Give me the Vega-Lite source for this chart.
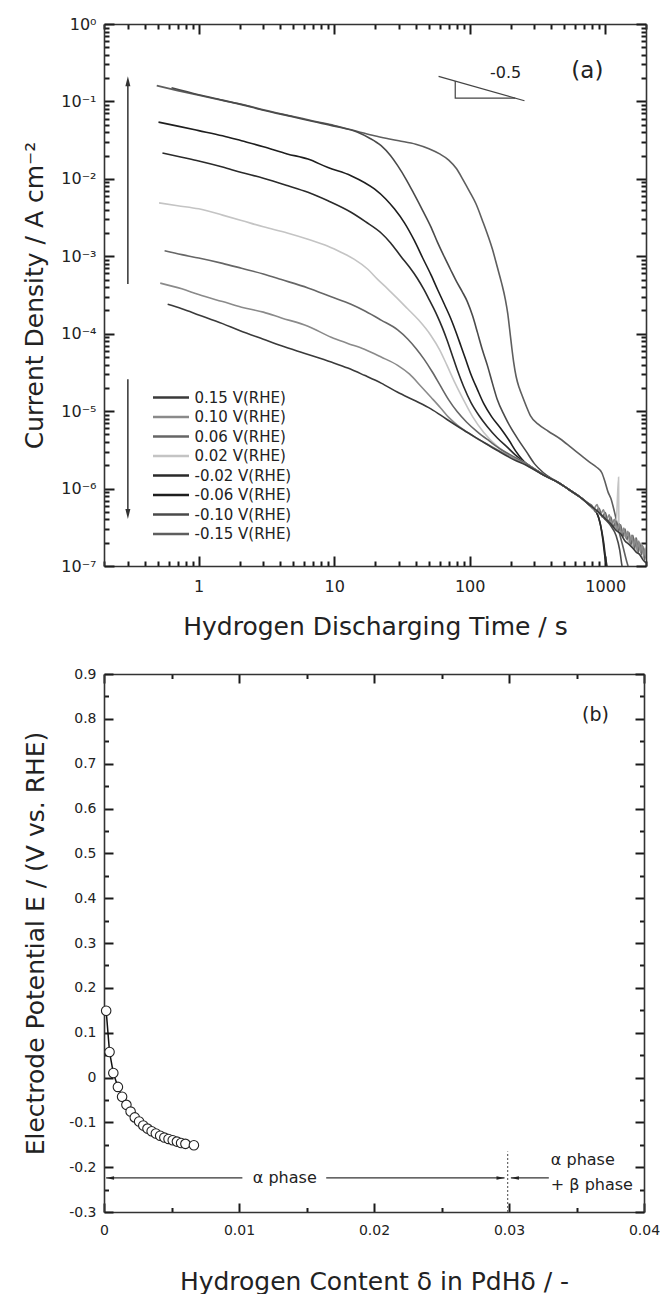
{
  "$schema": "https://vega.github.io/schema/vega-lite/v6.json",
  "padding": {"left": 22, "top": 16, "right": 0, "bottom": 0},
  "background": "white",
  "spacing": 28,
  "config": {
    "view": {"stroke": null},
    "font": "DejaVu Sans",
    "axis": {"grid": false, "ticks": true, "domainColor": "#333", "domainWidth": 1.6, "tickColor": "#1a1a1a", "tickWidth": 2, "tickOpacity": 1, "labelColor": "#222", "titleColor": "#222", "labelFont": "DejaVu Sans", "titleFont": "DejaVu Sans", "titleFontWeight": "normal"},
    "text": {"font": "DejaVu Sans", "color": "#222"}
  },
  "resolve": {"scale": {"color": "independent"}, "legend": {"color": "independent"}},
  "datasets": {
    "curves": [
      {"V":"-0.15 V(RHE)","t":0.49,"I":0.160},{"V":"-0.15 V(RHE)","t":0.7,"I":0.138},{"V":"-0.15 V(RHE)","t":1,"I":0.120},{"V":"-0.15 V(RHE)","t":1.5,"I":0.103},{"V":"-0.15 V(RHE)","t":2.07,"I":0.092},{"V":"-0.15 V(RHE)","t":3,"I":0.078},{"V":"-0.15 V(RHE)","t":5,"I":0.064},{"V":"-0.15 V(RHE)","t":7,"I":0.056},{"V":"-0.15 V(RHE)","t":10,"I":0.049},{"V":"-0.15 V(RHE)","t":14.9,"I":0.041},{"V":"-0.15 V(RHE)","t":19.8,"I":0.036},{"V":"-0.15 V(RHE)","t":25,"I":0.033},{"V":"-0.15 V(RHE)","t":30,"I":0.031},{"V":"-0.15 V(RHE)","t":40,"I":0.028},{"V":"-0.15 V(RHE)","t":50,"I":0.0245},{"V":"-0.15 V(RHE)","t":60,"I":0.021},{"V":"-0.15 V(RHE)","t":70,"I":0.0175},{"V":"-0.15 V(RHE)","t":80,"I":0.0135},{"V":"-0.15 V(RHE)","t":90,"I":0.0095},{"V":"-0.15 V(RHE)","t":100,"I":0.0068},{"V":"-0.15 V(RHE)","t":111,"I":0.0048},{"V":"-0.15 V(RHE)","t":125,"I":0.0028},{"V":"-0.15 V(RHE)","t":137,"I":0.0018},{"V":"-0.15 V(RHE)","t":147,"I":0.00124},{"V":"-0.15 V(RHE)","t":160,"I":0.00072},{"V":"-0.15 V(RHE)","t":172,"I":0.00045},{"V":"-0.15 V(RHE)","t":183,"I":0.00028},{"V":"-0.15 V(RHE)","t":191,"I":0.00018},{"V":"-0.15 V(RHE)","t":197,"I":0.000115},{"V":"-0.15 V(RHE)","t":204,"I":0.000068},{"V":"-0.15 V(RHE)","t":211,"I":0.000043},{"V":"-0.15 V(RHE)","t":220,"I":0.000028},{"V":"-0.15 V(RHE)","t":232,"I":0.000020},{"V":"-0.15 V(RHE)","t":244,"I":0.0000158},{"V":"-0.15 V(RHE)","t":262,"I":0.0000115},{"V":"-0.15 V(RHE)","t":281,"I":0.0000087},{"V":"-0.15 V(RHE)","t":320,"I":0.0000068},{"V":"-0.15 V(RHE)","t":380,"I":0.0000055},{"V":"-0.15 V(RHE)","t":464,"I":0.0000044},{"V":"-0.15 V(RHE)","t":560,"I":0.0000034},{"V":"-0.15 V(RHE)","t":660,"I":0.0000027},{"V":"-0.15 V(RHE)","t":766,"I":0.0000022},{"V":"-0.15 V(RHE)","t":860,"I":0.0000019},{"V":"-0.15 V(RHE)","t":944,"I":0.0000016},{"V":"-0.15 V(RHE)","t":1000,"I":0.0000012},{"V":"-0.15 V(RHE)","t":1050,"I":0.0000009},{"V":"-0.15 V(RHE)","t":1100,"I":0.00000075},{"V":"-0.15 V(RHE)","t":1170,"I":0.0000005},{"V":"-0.15 V(RHE)","t":1250,"I":0.0000003},{"V":"-0.15 V(RHE)","t":1350,"I":0.00000018},{"V":"-0.15 V(RHE)","t":1450,"I":0.00000011},{"V":"-0.15 V(RHE)","t":1500,"I":0.00000009},

      {"V":"-0.10 V(RHE)","t":0.63,"I":0.150},{"V":"-0.10 V(RHE)","t":1,"I":0.122},{"V":"-0.10 V(RHE)","t":1.5,"I":0.104},{"V":"-0.10 V(RHE)","t":2.07,"I":0.091},{"V":"-0.10 V(RHE)","t":3,"I":0.077},{"V":"-0.10 V(RHE)","t":5,"I":0.063},{"V":"-0.10 V(RHE)","t":7,"I":0.055},{"V":"-0.10 V(RHE)","t":10,"I":0.048},{"V":"-0.10 V(RHE)","t":14.9,"I":0.040},{"V":"-0.10 V(RHE)","t":18,"I":0.034},{"V":"-0.10 V(RHE)","t":22.2,"I":0.0268},{"V":"-0.10 V(RHE)","t":26,"I":0.020},{"V":"-0.10 V(RHE)","t":29.4,"I":0.0148},{"V":"-0.10 V(RHE)","t":34,"I":0.0098},{"V":"-0.10 V(RHE)","t":39,"I":0.0063},{"V":"-0.10 V(RHE)","t":45,"I":0.0039},{"V":"-0.10 V(RHE)","t":51.7,"I":0.0024},{"V":"-0.10 V(RHE)","t":58,"I":0.0015},{"V":"-0.10 V(RHE)","t":65,"I":0.00098},{"V":"-0.10 V(RHE)","t":72,"I":0.00068},{"V":"-0.10 V(RHE)","t":80,"I":0.00047},{"V":"-0.10 V(RHE)","t":88,"I":0.00035},{"V":"-0.10 V(RHE)","t":96,"I":0.00026},{"V":"-0.10 V(RHE)","t":105,"I":0.00017},{"V":"-0.10 V(RHE)","t":114,"I":0.000104},{"V":"-0.10 V(RHE)","t":124,"I":0.000062},{"V":"-0.10 V(RHE)","t":135,"I":0.000039},{"V":"-0.10 V(RHE)","t":147,"I":0.000023},{"V":"-0.10 V(RHE)","t":160,"I":0.000014},{"V":"-0.10 V(RHE)","t":180,"I":0.0000088},{"V":"-0.10 V(RHE)","t":200,"I":0.0000062},{"V":"-0.10 V(RHE)","t":230,"I":0.0000042},{"V":"-0.10 V(RHE)","t":262,"I":0.000003},{"V":"-0.10 V(RHE)","t":300,"I":0.0000021},{"V":"-0.10 V(RHE)","t":350,"I":0.0000016},{"V":"-0.10 V(RHE)","t":450,"I":0.0000012},{"V":"-0.10 V(RHE)","t":535,"I":0.00000098},{"V":"-0.10 V(RHE)","t":650,"I":0.00000078},{"V":"-0.10 V(RHE)","t":760,"I":0.00000062},{"V":"-0.10 V(RHE)","t":900,"I":0.00000048},{"V":"-0.10 V(RHE)","t":1000,"I":0.0000004},{"V":"-0.10 V(RHE)","t":1100,"I":0.00000033},{"V":"-0.10 V(RHE)","t":1200,"I":0.00000025},{"V":"-0.10 V(RHE)","t":1280,"I":0.00000016},{"V":"-0.10 V(RHE)","t":1330,"I":0.0000001},{"V":"-0.10 V(RHE)","t":1360,"I":0.00000008},

      {"V":"-0.06 V(RHE)","t":0.505,"I":0.054},{"V":"-0.06 V(RHE)","t":0.7,"I":0.048},{"V":"-0.06 V(RHE)","t":1,"I":0.042},{"V":"-0.06 V(RHE)","t":1.5,"I":0.036},{"V":"-0.06 V(RHE)","t":2.07,"I":0.031},{"V":"-0.06 V(RHE)","t":3,"I":0.026},{"V":"-0.06 V(RHE)","t":4.5,"I":0.021},{"V":"-0.06 V(RHE)","t":6.4,"I":0.018},{"V":"-0.06 V(RHE)","t":9,"I":0.014},{"V":"-0.06 V(RHE)","t":13.3,"I":0.011},{"V":"-0.06 V(RHE)","t":19.8,"I":0.0074},{"V":"-0.06 V(RHE)","t":24,"I":0.0055},{"V":"-0.06 V(RHE)","t":27.8,"I":0.0041},{"V":"-0.06 V(RHE)","t":33,"I":0.0027},{"V":"-0.06 V(RHE)","t":39,"I":0.0016},{"V":"-0.06 V(RHE)","t":45,"I":0.00095},{"V":"-0.06 V(RHE)","t":51.7,"I":0.00058},{"V":"-0.06 V(RHE)","t":58,"I":0.00037},{"V":"-0.06 V(RHE)","t":65,"I":0.00024},{"V":"-0.06 V(RHE)","t":72.7,"I":0.000155},{"V":"-0.06 V(RHE)","t":80,"I":0.0001},{"V":"-0.06 V(RHE)","t":86,"I":0.00007},{"V":"-0.06 V(RHE)","t":94,"I":0.000045},{"V":"-0.06 V(RHE)","t":102,"I":0.00003},{"V":"-0.06 V(RHE)","t":114,"I":0.000019},{"V":"-0.06 V(RHE)","t":127,"I":0.0000125},{"V":"-0.06 V(RHE)","t":145,"I":0.0000085},{"V":"-0.06 V(RHE)","t":169,"I":0.000006},{"V":"-0.06 V(RHE)","t":195,"I":0.0000042},{"V":"-0.06 V(RHE)","t":220,"I":0.000003},{"V":"-0.06 V(RHE)","t":262,"I":0.0000021},{"V":"-0.06 V(RHE)","t":300,"I":0.0000018},{"V":"-0.06 V(RHE)","t":350,"I":0.0000015},{"V":"-0.06 V(RHE)","t":450,"I":0.0000012},{"V":"-0.06 V(RHE)","t":535,"I":0.00000098},{"V":"-0.06 V(RHE)","t":650,"I":0.00000078},{"V":"-0.06 V(RHE)","t":760,"I":0.00000062},{"V":"-0.06 V(RHE)","t":860,"I":0.0000005},{"V":"-0.06 V(RHE)","t":920,"I":0.00000035},{"V":"-0.06 V(RHE)","t":960,"I":0.00000022},{"V":"-0.06 V(RHE)","t":990,"I":0.00000014},{"V":"-0.06 V(RHE)","t":1020,"I":0.0000001},{"V":"-0.06 V(RHE)","t":1040,"I":0.00000008},

      {"V":"-0.02 V(RHE)","t":0.54,"I":0.0216},{"V":"-0.02 V(RHE)","t":0.75,"I":0.019},{"V":"-0.02 V(RHE)","t":1,"I":0.017},{"V":"-0.02 V(RHE)","t":1.5,"I":0.0142},{"V":"-0.02 V(RHE)","t":2.07,"I":0.0121},{"V":"-0.02 V(RHE)","t":3,"I":0.0102},{"V":"-0.02 V(RHE)","t":4.5,"I":0.0082},{"V":"-0.02 V(RHE)","t":6.4,"I":0.0067},{"V":"-0.02 V(RHE)","t":9,"I":0.0052},{"V":"-0.02 V(RHE)","t":13.3,"I":0.0037},{"V":"-0.02 V(RHE)","t":17,"I":0.0028},{"V":"-0.02 V(RHE)","t":22.2,"I":0.002},{"V":"-0.02 V(RHE)","t":26,"I":0.0015},{"V":"-0.02 V(RHE)","t":31,"I":0.001},{"V":"-0.02 V(RHE)","t":36,"I":0.00072},{"V":"-0.02 V(RHE)","t":41,"I":0.00052},{"V":"-0.02 V(RHE)","t":46,"I":0.00037},{"V":"-0.02 V(RHE)","t":50,"I":0.00028},{"V":"-0.02 V(RHE)","t":54,"I":0.000215},{"V":"-0.02 V(RHE)","t":57.6,"I":0.00017},{"V":"-0.02 V(RHE)","t":63,"I":0.000118},{"V":"-0.02 V(RHE)","t":68,"I":0.000083},{"V":"-0.02 V(RHE)","t":74,"I":0.000054},{"V":"-0.02 V(RHE)","t":81,"I":0.000034},{"V":"-0.02 V(RHE)","t":90,"I":0.000021},{"V":"-0.02 V(RHE)","t":102,"I":0.000013},{"V":"-0.02 V(RHE)","t":117,"I":0.0000088},{"V":"-0.02 V(RHE)","t":135,"I":0.0000063},{"V":"-0.02 V(RHE)","t":160,"I":0.0000045},{"V":"-0.02 V(RHE)","t":190,"I":0.0000034},{"V":"-0.02 V(RHE)","t":218,"I":0.0000027},{"V":"-0.02 V(RHE)","t":262,"I":0.0000021},{"V":"-0.02 V(RHE)","t":300,"I":0.0000018},{"V":"-0.02 V(RHE)","t":350,"I":0.0000015},{"V":"-0.02 V(RHE)","t":450,"I":0.0000012},{"V":"-0.02 V(RHE)","t":535,"I":0.00000098},{"V":"-0.02 V(RHE)","t":650,"I":0.00000078},{"V":"-0.02 V(RHE)","t":760,"I":0.00000062},{"V":"-0.02 V(RHE)","t":860,"I":0.0000005},{"V":"-0.02 V(RHE)","t":930,"I":0.00000032},{"V":"-0.02 V(RHE)","t":975,"I":0.0000002},{"V":"-0.02 V(RHE)","t":1005,"I":0.00000013},{"V":"-0.02 V(RHE)","t":1030,"I":0.0000001},{"V":"-0.02 V(RHE)","t":1050,"I":0.00000008},

      {"V":"0.02 V(RHE)","t":0.51,"I":0.0049},{"V":"0.02 V(RHE)","t":0.7,"I":0.0045},{"V":"0.02 V(RHE)","t":1,"I":0.0041},{"V":"0.02 V(RHE)","t":1.5,"I":0.0034},{"V":"0.02 V(RHE)","t":2.07,"I":0.0029},{"V":"0.02 V(RHE)","t":3,"I":0.0024},{"V":"0.02 V(RHE)","t":4.5,"I":0.002},{"V":"0.02 V(RHE)","t":6.4,"I":0.00166},{"V":"0.02 V(RHE)","t":9,"I":0.00135},{"V":"0.02 V(RHE)","t":11.3,"I":0.00112},{"V":"0.02 V(RHE)","t":14,"I":0.00092},{"V":"0.02 V(RHE)","t":17.7,"I":0.00068},{"V":"0.02 V(RHE)","t":21,"I":0.0005},{"V":"0.02 V(RHE)","t":24.8,"I":0.00038},{"V":"0.02 V(RHE)","t":29,"I":0.00029},{"V":"0.02 V(RHE)","t":34.8,"I":0.00021},{"V":"0.02 V(RHE)","t":42,"I":0.00015},{"V":"0.02 V(RHE)","t":51.7,"I":0.000095},{"V":"0.02 V(RHE)","t":60,"I":0.000062},{"V":"0.02 V(RHE)","t":68,"I":0.000039},{"V":"0.02 V(RHE)","t":78,"I":0.000023},{"V":"0.02 V(RHE)","t":90,"I":0.000014},{"V":"0.02 V(RHE)","t":105,"I":0.0000085},{"V":"0.02 V(RHE)","t":127,"I":0.0000053},{"V":"0.02 V(RHE)","t":160,"I":0.0000035},{"V":"0.02 V(RHE)","t":218,"I":0.0000025},{"V":"0.02 V(RHE)","t":262,"I":0.0000021},{"V":"0.02 V(RHE)","t":350,"I":0.0000015},{"V":"0.02 V(RHE)","t":450,"I":0.0000012},{"V":"0.02 V(RHE)","t":535,"I":0.00000098},{"V":"0.02 V(RHE)","t":650,"I":0.00000078},{"V":"0.02 V(RHE)","t":760,"I":0.00000062},{"V":"0.02 V(RHE)","t":900,"I":0.00000048},{"V":"0.02 V(RHE)","t":1000,"I":0.00000042},{"V":"0.02 V(RHE)","t":1100,"I":0.00000036},{"V":"0.02 V(RHE)","t":1200,"I":0.00000031},{"V":"0.02 V(RHE)","t":1255,"I":0.0000014},{"V":"0.02 V(RHE)","t":1262,"I":0.00000029},{"V":"0.02 V(RHE)","t":1300,"I":0.00000027},{"V":"0.02 V(RHE)","t":1400,"I":0.00000024},{"V":"0.02 V(RHE)","t":1500,"I":0.0000002},{"V":"0.02 V(RHE)","t":1600,"I":0.00000018},{"V":"0.02 V(RHE)","t":1700,"I":0.00000016},{"V":"0.02 V(RHE)","t":1800,"I":0.00000014},{"V":"0.02 V(RHE)","t":1900,"I":0.00000013},{"V":"0.02 V(RHE)","t":2000,"I":0.00000012},

      {"V":"0.06 V(RHE)","t":0.56,"I":0.00118},{"V":"0.06 V(RHE)","t":0.75,"I":0.00105},{"V":"0.06 V(RHE)","t":1,"I":0.00095},{"V":"0.06 V(RHE)","t":1.5,"I":0.00081},{"V":"0.06 V(RHE)","t":2.07,"I":0.0007},{"V":"0.06 V(RHE)","t":3,"I":0.00059},{"V":"0.06 V(RHE)","t":4.08,"I":0.0005},{"V":"0.06 V(RHE)","t":6.4,"I":0.00039},{"V":"0.06 V(RHE)","t":9.5,"I":0.0003},{"V":"0.06 V(RHE)","t":13.3,"I":0.00024},{"V":"0.06 V(RHE)","t":17,"I":0.000195},{"V":"0.06 V(RHE)","t":22.2,"I":0.00015},{"V":"0.06 V(RHE)","t":29.4,"I":0.000112},{"V":"0.06 V(RHE)","t":35,"I":0.000085},{"V":"0.06 V(RHE)","t":40,"I":0.000065},{"V":"0.06 V(RHE)","t":46,"I":0.000047},{"V":"0.06 V(RHE)","t":53,"I":0.000032},{"V":"0.06 V(RHE)","t":61,"I":0.000021},{"V":"0.06 V(RHE)","t":70,"I":0.000014},{"V":"0.06 V(RHE)","t":81,"I":0.0000098},{"V":"0.06 V(RHE)","t":95,"I":0.0000072},{"V":"0.06 V(RHE)","t":114,"I":0.0000054},{"V":"0.06 V(RHE)","t":140,"I":0.0000041},{"V":"0.06 V(RHE)","t":170,"I":0.0000032},{"V":"0.06 V(RHE)","t":218,"I":0.0000025},{"V":"0.06 V(RHE)","t":262,"I":0.0000021},{"V":"0.06 V(RHE)","t":350,"I":0.0000015},{"V":"0.06 V(RHE)","t":450,"I":0.0000012},{"V":"0.06 V(RHE)","t":535,"I":0.00000098},{"V":"0.06 V(RHE)","t":650,"I":0.00000078},{"V":"0.06 V(RHE)","t":760,"I":0.00000064},{"V":"0.06 V(RHE)","t":800,"I":0.0000006},{"V":"0.06 V(RHE)","t":850,"I":0.0000005},{"V":"0.06 V(RHE)","t":900,"I":0.00000056},{"V":"0.06 V(RHE)","t":950,"I":0.00000043},{"V":"0.06 V(RHE)","t":1000,"I":0.00000049},{"V":"0.06 V(RHE)","t":1050,"I":0.00000037},{"V":"0.06 V(RHE)","t":1100,"I":0.00000043},{"V":"0.06 V(RHE)","t":1150,"I":0.00000032},{"V":"0.06 V(RHE)","t":1200,"I":0.00000038},{"V":"0.06 V(RHE)","t":1250,"I":0.00000028},{"V":"0.06 V(RHE)","t":1300,"I":0.00000034},{"V":"0.06 V(RHE)","t":1350,"I":0.00000024},{"V":"0.06 V(RHE)","t":1400,"I":0.0000003},{"V":"0.06 V(RHE)","t":1450,"I":0.00000022},{"V":"0.06 V(RHE)","t":1500,"I":0.00000027},{"V":"0.06 V(RHE)","t":1550,"I":0.00000019},{"V":"0.06 V(RHE)","t":1600,"I":0.00000025},{"V":"0.06 V(RHE)","t":1650,"I":0.00000017},{"V":"0.06 V(RHE)","t":1700,"I":0.00000023},{"V":"0.06 V(RHE)","t":1750,"I":0.00000015},{"V":"0.06 V(RHE)","t":1800,"I":0.0000002},{"V":"0.06 V(RHE)","t":1850,"I":0.00000014},{"V":"0.06 V(RHE)","t":1900,"I":0.00000018},{"V":"0.06 V(RHE)","t":1950,"I":0.00000012},{"V":"0.06 V(RHE)","t":2000,"I":0.00000016},

      {"V":"0.10 V(RHE)","t":0.52,"I":0.00045},{"V":"0.10 V(RHE)","t":0.75,"I":0.00038},{"V":"0.10 V(RHE)","t":1,"I":0.00032},{"V":"0.10 V(RHE)","t":1.5,"I":0.00026},{"V":"0.10 V(RHE)","t":2.07,"I":0.00022},{"V":"0.10 V(RHE)","t":3,"I":0.00019},{"V":"0.10 V(RHE)","t":4.08,"I":0.00016},{"V":"0.10 V(RHE)","t":6.4,"I":0.000125},{"V":"0.10 V(RHE)","t":9.5,"I":0.00009},{"V":"0.10 V(RHE)","t":12.6,"I":0.000075},{"V":"0.10 V(RHE)","t":16.7,"I":0.000063},{"V":"0.10 V(RHE)","t":22.2,"I":0.00005},{"V":"0.10 V(RHE)","t":29.4,"I":0.000039},{"V":"0.10 V(RHE)","t":36,"I":0.00003},{"V":"0.10 V(RHE)","t":43.6,"I":0.000021},{"V":"0.10 V(RHE)","t":52,"I":0.000015},{"V":"0.10 V(RHE)","t":61,"I":0.000011},{"V":"0.10 V(RHE)","t":70,"I":0.0000083},{"V":"0.10 V(RHE)","t":81,"I":0.0000066},{"V":"0.10 V(RHE)","t":95,"I":0.0000054},{"V":"0.10 V(RHE)","t":114,"I":0.0000044},{"V":"0.10 V(RHE)","t":140,"I":0.0000036},{"V":"0.10 V(RHE)","t":170,"I":0.000003},{"V":"0.10 V(RHE)","t":218,"I":0.0000024},{"V":"0.10 V(RHE)","t":262,"I":0.000002},{"V":"0.10 V(RHE)","t":350,"I":0.0000015},{"V":"0.10 V(RHE)","t":450,"I":0.0000012},{"V":"0.10 V(RHE)","t":535,"I":0.00000098},{"V":"0.10 V(RHE)","t":650,"I":0.00000078},{"V":"0.10 V(RHE)","t":760,"I":0.00000062},{"V":"0.10 V(RHE)","t":820,"I":0.00000054},{"V":"0.10 V(RHE)","t":870,"I":0.00000062},{"V":"0.10 V(RHE)","t":920,"I":0.00000046},{"V":"0.10 V(RHE)","t":970,"I":0.00000053},{"V":"0.10 V(RHE)","t":1020,"I":0.00000039},{"V":"0.10 V(RHE)","t":1070,"I":0.00000046},{"V":"0.10 V(RHE)","t":1120,"I":0.00000034},{"V":"0.10 V(RHE)","t":1170,"I":0.0000004},{"V":"0.10 V(RHE)","t":1220,"I":0.00000029},{"V":"0.10 V(RHE)","t":1270,"I":0.00000035},{"V":"0.10 V(RHE)","t":1320,"I":0.00000026},{"V":"0.10 V(RHE)","t":1370,"I":0.00000031},{"V":"0.10 V(RHE)","t":1420,"I":0.00000023},{"V":"0.10 V(RHE)","t":1470,"I":0.00000028},{"V":"0.10 V(RHE)","t":1520,"I":0.0000002},{"V":"0.10 V(RHE)","t":1570,"I":0.00000025},{"V":"0.10 V(RHE)","t":1620,"I":0.00000018},{"V":"0.10 V(RHE)","t":1670,"I":0.00000023},{"V":"0.10 V(RHE)","t":1720,"I":0.00000016},{"V":"0.10 V(RHE)","t":1770,"I":0.00000021},{"V":"0.10 V(RHE)","t":1820,"I":0.00000015},{"V":"0.10 V(RHE)","t":1870,"I":0.00000019},{"V":"0.10 V(RHE)","t":1920,"I":0.000000135},{"V":"0.10 V(RHE)","t":1970,"I":0.00000017},{"V":"0.10 V(RHE)","t":2000,"I":0.00000013},

      {"V":"0.15 V(RHE)","t":0.59,"I":0.00024},{"V":"0.15 V(RHE)","t":0.75,"I":0.00021},{"V":"0.15 V(RHE)","t":1,"I":0.000175},{"V":"0.15 V(RHE)","t":1.5,"I":0.000135},{"V":"0.15 V(RHE)","t":2,"I":0.00011},{"V":"0.15 V(RHE)","t":3,"I":0.000085},{"V":"0.15 V(RHE)","t":4.08,"I":0.00007},{"V":"0.15 V(RHE)","t":6,"I":0.000056},{"V":"0.15 V(RHE)","t":9.5,"I":0.000043},{"V":"0.15 V(RHE)","t":12.6,"I":0.000036},{"V":"0.15 V(RHE)","t":16.7,"I":0.000029},{"V":"0.15 V(RHE)","t":22.2,"I":0.000023},{"V":"0.15 V(RHE)","t":29.4,"I":0.0000175},{"V":"0.15 V(RHE)","t":40,"I":0.0000135},{"V":"0.15 V(RHE)","t":51.7,"I":0.0000107},{"V":"0.15 V(RHE)","t":68,"I":0.0000078},{"V":"0.15 V(RHE)","t":90,"I":0.0000057},{"V":"0.15 V(RHE)","t":120,"I":0.0000042},{"V":"0.15 V(RHE)","t":160,"I":0.0000031},{"V":"0.15 V(RHE)","t":218,"I":0.0000023},{"V":"0.15 V(RHE)","t":262,"I":0.000002},{"V":"0.15 V(RHE)","t":350,"I":0.0000015},{"V":"0.15 V(RHE)","t":450,"I":0.0000012},{"V":"0.15 V(RHE)","t":535,"I":0.00000098},{"V":"0.15 V(RHE)","t":650,"I":0.00000078},{"V":"0.15 V(RHE)","t":760,"I":0.00000062},{"V":"0.15 V(RHE)","t":900,"I":0.00000049},{"V":"0.15 V(RHE)","t":1000,"I":0.00000041},{"V":"0.15 V(RHE)","t":1100,"I":0.00000035},{"V":"0.15 V(RHE)","t":1200,"I":0.00000029},{"V":"0.15 V(RHE)","t":1300,"I":0.00000026},{"V":"0.15 V(RHE)","t":1400,"I":0.00000021},{"V":"0.15 V(RHE)","t":1500,"I":0.00000019},{"V":"0.15 V(RHE)","t":1600,"I":0.00000017},{"V":"0.15 V(RHE)","t":1700,"I":0.00000015},{"V":"0.15 V(RHE)","t":1800,"I":0.00000014},{"V":"0.15 V(RHE)","t":1900,"I":0.00000012},{"V":"0.15 V(RHE)","t":2000,"I":0.00000011}
    ],
    "tri": [
      {"seg":"h","ord":1,"t":58.9,"I":0.211},{"seg":"h","ord":2,"t":253.7,"I":0.102},
      {"seg":"l","ord":1,"t":78.2,"I":0.183},{"seg":"l","ord":2,"t":78.2,"I":0.110},{"seg":"l","ord":3,"t":216.7,"I":0.110}
    ],
    "arrowsA": [{"t":0.3,"I":0.00044,"I2":0.182},{"t":0.3,"I":0.0000259,"I2":0.00000047}],
    "upHead": [{"t":0.3,"I":0.182}],
    "downHead": [{"t":0.3,"I":0.00000047}],
    "slopeText": [{"t":184,"I":0.233,"label":"-0.5"}],
    "aText": [{"t":738,"I":0.249,"label":"(a)"}],
    "pts": [
      {"d":0.00016,"E":0.149},{"d":0.00041,"E":0.057},{"d":0.00069,"E":0.010},{"d":0.00103,"E":-0.021},{"d":0.00134,"E":-0.043},{"d":0.00166,"E":-0.061},{"d":0.00197,"E":-0.076},{"d":0.00228,"E":-0.089},{"d":0.0026,"E":-0.098},{"d":0.00291,"E":-0.107},{"d":0.00322,"E":-0.114},{"d":0.00353,"E":-0.12},{"d":0.00384,"E":-0.125},{"d":0.00416,"E":-0.13},{"d":0.00447,"E":-0.134},{"d":0.00478,"E":-0.137},{"d":0.00509,"E":-0.14},{"d":0.0054,"E":-0.143},{"d":0.00571,"E":-0.146},{"d":0.00603,"E":-0.148},{"d":0.00666,"E":-0.151}
    ],
    "hrules": [{"d1":0.000156,"d2":0.01025,"E":-0.224},{"d1":0.01646,"d2":0.02967,"E":-0.224},{"d1":0.03014,"d2":0.03295,"E":-0.224}],
    "vline": [{"d":0.0299,"E1":-0.3,"E2":-0.165}],
    "leftHeads": [{"d":0.00045,"E":-0.224},{"d":0.03044,"E":-0.224}],
    "rightHeads": [{"d":0.02937,"E":-0.224}],
    "midText": [{"d":0.01339,"E":-0.224,"label":"α phase"}],
    "sideText": [{"d":0.0331,"E":-0.183,"label":"α phase"},{"d":0.0331,"E":-0.24,"label":"+ β phase"}],
    "bText": [{"d":0.0364,"E":0.809,"label":"(b)"}]
  },
  "vconcat": [
    {
      "width": 542,
      "height": 542,
      "layer": [
        {
          "data": {"name": "curves"},
          "mark": {"type": "line", "strokeWidth": 1.6, "clip": true, "interpolate": "monotone"},
          "encoding": {
            "x": {"field": "t", "type": "quantitative", "scale": {"type": "log", "domain": [0.2, 2000]},
              "axis": {"orient": "top", "offset": -542, "values": [0.2,0.3,0.4,0.5,0.6,0.7,0.8,0.9,1,2,3,4,5,6,7,8,9,10,20,30,40,50,60,70,80,90,100,200,300,400,500,600,700,800,900,1000,2000],
                "labelExpr": "abs(log(datum.value)/LN10 - round(log(datum.value)/LN10)) < 0.001 ? toString(round(datum.value)) : ''",
                "tickSize": {"condition": {"test": "abs(log(datum.value)/LN10 - round(log(datum.value)/LN10)) < 0.001", "value": 10}, "value": 5},
                "labelPadding": -22, "labelBaseline": "top", "labelAlign": "center", "labelFontSize": 16, "labelFlush": false, "labelOverlap": false,
                "title": "Hydrogen Discharging Time / s", "titleFontSize": 25, "titleY": 48, "titleBaseline": "top", "titleAlign": "center"}},
            "y": {"field": "I", "type": "quantitative", "scale": {"type": "log", "domain": [1e-7, 1]},
              "axis": {"orient": "right", "offset": -542, "values": [1e-7,2e-7,3e-7,4e-7,5e-7,6e-7,7e-7,8e-7,9e-7,1e-6,2e-6,3e-6,4e-6,5e-6,6e-6,7e-6,8e-6,9e-6,1e-5,2e-5,3e-5,4e-5,5e-5,6e-5,7e-5,8e-5,9e-5,1e-4,2e-4,3e-4,4e-4,5e-4,6e-4,7e-4,8e-4,9e-4,0.001,0.002,0.003,0.004,0.005,0.006,0.007,0.008,0.009,0.01,0.02,0.03,0.04,0.05,0.06,0.07,0.08,0.09,0.1,0.2,0.3,0.4,0.5,0.6,0.7,0.8,0.9,1],
                "labelExpr": "abs(log(datum.value)/LN10 - round(log(datum.value)/LN10)) < 0.001 ? ['10⁰','10⁻¹','10⁻²','10⁻³','10⁻⁴','10⁻⁵','10⁻⁶','10⁻⁷'][abs(round(log(datum.value)/LN10))] : ''",
                "tickSize": {"condition": {"test": "abs(log(datum.value)/LN10 - round(log(datum.value)/LN10)) < 0.001", "value": 10}, "value": 5},
                "labelPadding": -18, "labelAlign": "right", "labelBaseline": "middle", "labelFontSize": 16, "labelFlush": false, "labelOverlap": false,
                "title": "Current Density / A cm⁻²", "titleFontSize": 25, "titleAngle": 270, "titleX": -70, "titleY": 271, "titleBaseline": "middle", "titleAlign": "center"}},
            "color": {"field": "V", "type": "nominal",
              "scale": {"domain": ["0.15 V(RHE)","0.10 V(RHE)","0.06 V(RHE)","0.02 V(RHE)","-0.02 V(RHE)","-0.06 V(RHE)","-0.10 V(RHE)","-0.15 V(RHE)"],
                        "range": ["#3a3a3a","#8a8a8a","#666666","#c4c4c4","#2a2a2a","#1e1e1e","#4a4a4a","#5e5e5e"]},
              "legend": {"orient": "none", "legendX": 49, "legendY": 366, "title": null, "symbolType": "M-3,0H3", "symbolSize": 144, "symbolStrokeWidth": 2.5, "symbolOffset": 10.5, "labelOffset": 16, "labelFontSize": 15, "labelFont": "DejaVu Sans", "labelColor": "#222", "rowPadding": 3.5, "padding": 0, "direction": "vertical"}}
          }
        },
        {
          "data": {"name": "tri"},
          "mark": {"type": "line", "stroke": "#444", "strokeWidth": 1.2},
          "encoding": {
            "x": {"field": "t", "type": "quantitative", "scale": {"type": "log", "domain": [0.2, 2000]},
              "axis": {"orient": "bottom", "offset": -542, "values": [0.2,0.3,0.4,0.5,0.6,0.7,0.8,0.9,1,2,3,4,5,6,7,8,9,10,20,30,40,50,60,70,80,90,100,200,300,400,500,600,700,800,900,1000,2000],
                "labels": false, "title": null,
                "tickSize": {"condition": {"test": "abs(log(datum.value)/LN10 - round(log(datum.value)/LN10)) < 0.001", "value": 10}, "value": 5}}},
            "y": {"field": "I", "type": "quantitative", "scale": {"type": "log", "domain": [1e-7, 1]},
              "axis": {"orient": "left", "offset": -542, "values": [1e-7,2e-7,3e-7,4e-7,5e-7,6e-7,7e-7,8e-7,9e-7,1e-6,2e-6,3e-6,4e-6,5e-6,6e-6,7e-6,8e-6,9e-6,1e-5,2e-5,3e-5,4e-5,5e-5,6e-5,7e-5,8e-5,9e-5,1e-4,2e-4,3e-4,4e-4,5e-4,6e-4,7e-4,8e-4,9e-4,0.001,0.002,0.003,0.004,0.005,0.006,0.007,0.008,0.009,0.01,0.02,0.03,0.04,0.05,0.06,0.07,0.08,0.09,0.1,0.2,0.3,0.4,0.5,0.6,0.7,0.8,0.9,1],
                "labels": false, "title": null,
                "tickSize": {"condition": {"test": "abs(log(datum.value)/LN10 - round(log(datum.value)/LN10)) < 0.001", "value": 10}, "value": 5}}},
            "detail": {"field": "seg", "type": "nominal"},
            "order": {"field": "ord", "type": "quantitative"}
          }
        },
        {
          "data": {"name": "arrowsA"},
          "mark": {"type": "rule", "stroke": "#333", "strokeWidth": 1.5},
          "encoding": {
            "x": {"field": "t", "type": "quantitative", "scale": {"type": "log", "domain": [0.2, 2000]}, "axis": null},
            "y": {"field": "I", "type": "quantitative", "scale": {"type": "log", "domain": [1e-7, 1]}, "axis": null},
            "y2": {"field": "I2"}
          }
        },
        {
          "data": {"name": "upHead"},
          "mark": {"type": "point", "shape": "M0,-1L0.5,1L-0.5,1Z", "filled": true, "color": "#333", "size": 100, "opacity": 1},
          "encoding": {
            "x": {"field": "t", "type": "quantitative", "scale": {"type": "log", "domain": [0.2, 2000]}, "axis": null},
            "y": {"field": "I", "type": "quantitative", "scale": {"type": "log", "domain": [1e-7, 1]}, "axis": null}
          }
        },
        {
          "data": {"name": "downHead"},
          "mark": {"type": "point", "shape": "M0,1L0.5,-1L-0.5,-1Z", "filled": true, "color": "#333", "size": 100, "opacity": 1},
          "encoding": {
            "x": {"field": "t", "type": "quantitative", "scale": {"type": "log", "domain": [0.2, 2000]}, "axis": null},
            "y": {"field": "I", "type": "quantitative", "scale": {"type": "log", "domain": [1e-7, 1]}, "axis": null}
          }
        },
        {
          "data": {"name": "slopeText"},
          "mark": {"type": "text", "fontSize": 16, "align": "center", "baseline": "middle"},
          "encoding": {
            "x": {"field": "t", "type": "quantitative", "scale": {"type": "log", "domain": [0.2, 2000]}, "axis": null},
            "y": {"field": "I", "type": "quantitative", "scale": {"type": "log", "domain": [1e-7, 1]}, "axis": null},
            "text": {"field": "label"}
          }
        },
        {
          "data": {"name": "aText"},
          "mark": {"type": "text", "fontSize": 23, "align": "center", "baseline": "middle"},
          "encoding": {
            "x": {"field": "t", "type": "quantitative", "scale": {"type": "log", "domain": [0.2, 2000]}, "axis": null},
            "y": {"field": "I", "type": "quantitative", "scale": {"type": "log", "domain": [1e-7, 1]}, "axis": null},
            "text": {"field": "label"}
          }
        }
      ],
      "resolve": {"axis": {"x": "independent", "y": "independent"}}
    },
    {
      "width": 540,
      "height": 538,
      "layer": [
        {
          "data": {"name": "pts"},
          "mark": {"type": "line", "color": "#111", "strokeWidth": 1.5},
          "encoding": {
            "x": {"field": "d", "type": "quantitative", "scale": {"domain": [0, 0.04], "nice": false, "zero": false},
              "axis": {"orient": "top", "offset": -538, "values": [0,0.005,0.01,0.015,0.02,0.025,0.03,0.035,0.04],
                "labelExpr": "abs(datum.value*100 - round(datum.value*100)) < 0.000001 ? toString(round(datum.value*100)/100) : ''",
                "tickSize": {"condition": {"test": "abs(datum.value*100 - round(datum.value*100)) < 0.000001", "value": 9}, "value": 4.5},
                "labelPadding": -20, "labelBaseline": "top", "labelAlign": "center", "labelFontSize": 14, "labelFlush": false, "labelOverlap": false,
                "title": "Hydrogen Content δ in PdHδ / -", "titleFontSize": 25, "titleY": 57, "titleBaseline": "top", "titleAlign": "center"}},
            "y": {"field": "E", "type": "quantitative", "scale": {"domain": [-0.3, 0.9], "nice": false, "zero": false},
              "axis": {"orient": "right", "offset": -540, "values": [-0.3,-0.25,-0.2,-0.15,-0.1,-0.05,0,0.05,0.1,0.15,0.2,0.25,0.3,0.35,0.4,0.45,0.5,0.55,0.6,0.65,0.7,0.75,0.8,0.85,0.9],
                "labelExpr": "abs(datum.value*10 - round(datum.value*10)) < 0.000001 ? toString(round(datum.value*10)/10) : ''",
                "tickSize": {"condition": {"test": "abs(datum.value*10 - round(datum.value*10)) < 0.000001", "value": 9}, "value": 4.5},
                "labelPadding": -17, "labelAlign": "right", "labelBaseline": "middle", "labelFontSize": 14, "labelFlush": false, "labelOverlap": false,
                "title": "Electrode Potential  E / (V vs. RHE)", "titleFontSize": 25, "titleAngle": 270, "titleX": -69, "titleY": 269, "titleBaseline": "middle", "titleAlign": "center"}}
          }
        },
        {
          "data": {"name": "pts"},
          "mark": {"type": "point", "shape": "circle", "filled": true, "fill": "white", "stroke": "#222", "strokeWidth": 1.1, "size": 90, "opacity": 1},
          "encoding": {
            "x": {"field": "d", "type": "quantitative", "scale": {"domain": [0, 0.04], "nice": false, "zero": false},
              "axis": {"orient": "bottom", "offset": -538, "values": [0,0.005,0.01,0.015,0.02,0.025,0.03,0.035,0.04], "labels": false, "title": null,
                "tickSize": {"condition": {"test": "abs(datum.value*100 - round(datum.value*100)) < 0.000001", "value": 9}, "value": 4.5}}},
            "y": {"field": "E", "type": "quantitative", "scale": {"domain": [-0.3, 0.9], "nice": false, "zero": false},
              "axis": {"orient": "left", "offset": -540, "values": [-0.3,-0.25,-0.2,-0.15,-0.1,-0.05,0,0.05,0.1,0.15,0.2,0.25,0.3,0.35,0.4,0.45,0.5,0.55,0.6,0.65,0.7,0.75,0.8,0.85,0.9], "labels": false, "title": null,
                "tickSize": {"condition": {"test": "abs(datum.value*10 - round(datum.value*10)) < 0.000001", "value": 9}, "value": 4.5}}}
          }
        },
        {
          "data": {"name": "hrules"},
          "mark": {"type": "rule", "stroke": "#333", "strokeWidth": 1.3},
          "encoding": {
            "x": {"field": "d1", "type": "quantitative", "scale": {"domain": [0, 0.04], "nice": false, "zero": false}, "axis": null},
            "x2": {"field": "d2"},
            "y": {"field": "E", "type": "quantitative", "scale": {"domain": [-0.3, 0.9], "nice": false, "zero": false}, "axis": null}
          }
        },
        {
          "data": {"name": "vline"},
          "mark": {"type": "rule", "stroke": "#666", "strokeWidth": 1.2, "strokeDash": [2, 2]},
          "encoding": {
            "x": {"field": "d", "type": "quantitative", "scale": {"domain": [0, 0.04], "nice": false, "zero": false}, "axis": null},
            "y": {"field": "E1", "type": "quantitative", "scale": {"domain": [-0.3, 0.9], "nice": false, "zero": false}, "axis": null},
            "y2": {"field": "E2"}
          }
        },
        {
          "data": {"name": "leftHeads"},
          "mark": {"type": "point", "shape": "M-1,0L1,-0.45L1,0.45Z", "filled": true, "color": "#222", "size": 64, "opacity": 1},
          "encoding": {
            "x": {"field": "d", "type": "quantitative", "scale": {"domain": [0, 0.04], "nice": false, "zero": false}, "axis": null},
            "y": {"field": "E", "type": "quantitative", "scale": {"domain": [-0.3, 0.9], "nice": false, "zero": false}, "axis": null}
          }
        },
        {
          "data": {"name": "rightHeads"},
          "mark": {"type": "point", "shape": "M1,0L-1,-0.45L-1,0.45Z", "filled": true, "color": "#222", "size": 64, "opacity": 1},
          "encoding": {
            "x": {"field": "d", "type": "quantitative", "scale": {"domain": [0, 0.04], "nice": false, "zero": false}, "axis": null},
            "y": {"field": "E", "type": "quantitative", "scale": {"domain": [-0.3, 0.9], "nice": false, "zero": false}, "axis": null}
          }
        },
        {
          "data": {"name": "midText"},
          "mark": {"type": "text", "fontSize": 16, "align": "center", "baseline": "middle"},
          "encoding": {
            "x": {"field": "d", "type": "quantitative", "scale": {"domain": [0, 0.04], "nice": false, "zero": false}, "axis": null},
            "y": {"field": "E", "type": "quantitative", "scale": {"domain": [-0.3, 0.9], "nice": false, "zero": false}, "axis": null},
            "text": {"field": "label"}
          }
        },
        {
          "data": {"name": "sideText"},
          "mark": {"type": "text", "fontSize": 16, "align": "left", "baseline": "middle"},
          "encoding": {
            "x": {"field": "d", "type": "quantitative", "scale": {"domain": [0, 0.04], "nice": false, "zero": false}, "axis": null},
            "y": {"field": "E", "type": "quantitative", "scale": {"domain": [-0.3, 0.9], "nice": false, "zero": false}, "axis": null},
            "text": {"field": "label"}
          }
        },
        {
          "data": {"name": "bText"},
          "mark": {"type": "text", "fontSize": 19, "align": "center", "baseline": "middle"},
          "encoding": {
            "x": {"field": "d", "type": "quantitative", "scale": {"domain": [0, 0.04], "nice": false, "zero": false}, "axis": null},
            "y": {"field": "E", "type": "quantitative", "scale": {"domain": [-0.3, 0.9], "nice": false, "zero": false}, "axis": null},
            "text": {"field": "label"}
          }
        }
      ],
      "resolve": {"axis": {"x": "independent", "y": "independent"}}
    }
  ]
}
